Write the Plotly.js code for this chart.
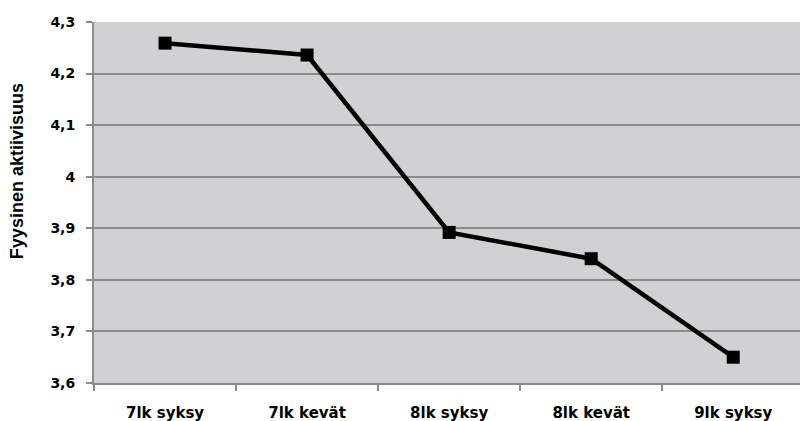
<!DOCTYPE html>
<html>
<head>
<meta charset="utf-8">
<script src="https://cdn.plot.ly/plotly-3.0.1.min.js"></script>
<style>html,body{margin:0;padding:0;background:#fff;}#chart{width:800px;height:421px;}</style>
</head>
<body>
<div id="chart"></div>
<script>
const categories = ["7lk syksy", "7lk kevät", "8lk syksy", "8lk kevät", "9lk syksy"];
const values = [4.259, 4.236, 3.892, 3.841, 3.650];
const yTicks = [3.6, 3.7, 3.8, 3.9, 4.0, 4.1, 4.2, 4.3];
const yTickLabels = ["3,6", "3,7", "3,8", "3,9", "4", "4,1", "4,2", "4,3"];
const yTitle = "Fyysinen aktiivisuus";

const trace = {
  x: categories,
  y: values,
  type: "scatter",
  mode: "lines+markers",
  line: {color: "#000000", width: 4.5},
  marker: {symbol: "square", size: 13, color: "#000000"},
  hoverinfo: "skip"
};

const tickFam = "DejaVu Sans, Verdana, sans-serif";
const titleFam = "Liberation Sans, Arial, sans-serif";

const layout = {
  width: 800,
  height: 421,
  margin: {l: 94, r: 0, t: 22, b: 38},
  paper_bgcolor: "#ffffff",
  plot_bgcolor: "#d0d1d3",
  showlegend: false,
  separators: ",.",
  font: {family: tickFam, color: "#000000", size: 14},
  xaxis: {
    type: "category",
    range: [-0.5, 4.47],
    tickvals: categories,
    ticktext: categories.map(c => "<b>" + c + "</b>"),
    showgrid: false,
    showline: true,
    linecolor: "#8c8c8c",
    linewidth: 2,
    ticks: "outside",
    tickson: "boundaries",
    ticklen: 6,
    tickwidth: 2,
    tickcolor: "#8c8c8c",
    ticklabelstandoff: 15,
    tickfont: {family: tickFam, size: 15, color: "#000000"},
    zeroline: false,
    fixedrange: true
  },
  yaxis: {
    range: [3.6, 4.3],
    tickvals: yTicks,
    ticktext: yTickLabels.map(t => "<b>" + t + "</b>"),
    showgrid: true,
    gridcolor: "#8c8c8c",
    gridwidth: 2,
    showline: true,
    linecolor: "#8c8c8c",
    linewidth: 2,
    ticks: "outside",
    ticklen: 6,
    tickwidth: 2,
    tickcolor: "#8c8c8c",
    ticklabelstandoff: 8,
    tickfont: {family: tickFam, size: 14, color: "#000000"},
    zeroline: false,
    automargin: false,
    fixedrange: true
  },
  annotations: [{
    text: "<b>" + yTitle + "</b>",
    xref: "paper", yref: "paper",
    x: -0.109, y: 0.587,
    xanchor: "center", yanchor: "middle",
    textangle: -90,
    showarrow: false,
    font: {family: titleFam, size: 18, color: "#000000"}
  }]
};

Plotly.newPlot("chart", [trace], layout, {displayModeBar: false, staticPlot: true});
</script>
</body>
</html>
